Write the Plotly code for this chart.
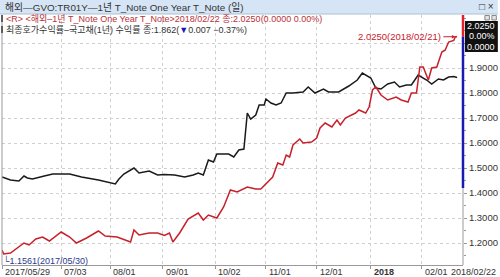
import plotly.graph_objects as go

# ---------------- data ----------------
red_dates = ["2017-05-29","2017-05-30","2017-06-03","2017-06-07","2017-06-11","2017-06-14","2017-06-18","2017-06-22","2017-06-26","2017-07-03",
             "2017-07-08","2017-07-12","2017-07-18","2017-07-25","2017-07-29","2017-08-05","2017-08-10","2017-08-13","2017-08-15","2017-08-18",
             "2017-08-24","2017-08-29","2017-09-02","2017-09-05","2017-09-07","2017-09-11","2017-09-16","2017-09-22","2017-09-25","2017-09-28",
             "2017-10-03","2017-10-07","2017-10-11","2017-10-15","2017-10-21","2017-10-26","2017-10-29","2017-11-02","2017-11-05","2017-11-08",
             "2017-11-11","2017-11-13","2017-11-15","2017-11-17","2017-11-21","2017-11-23","2017-11-28","2017-12-01","2017-12-03","2017-12-06",
             "2017-12-10","2017-12-13","2017-12-15","2017-12-18","2017-12-24","2017-12-26","2017-12-30","2018-01-01","2018-01-03","2018-01-05",
             "2018-01-08","2018-01-12","2018-01-17","2018-01-20","2018-01-24","2018-01-26","2018-01-29","2018-01-31","2018-02-02","2018-02-05",
             "2018-02-07","2018-02-10","2018-02-13","2018-02-15","2018-02-17","2018-02-20","2018-02-21","2018-02-22"]
red_vals = [1.172,1.156,1.160,1.180,1.200,1.192,1.216,1.224,1.208,1.244,
            1.224,1.200,1.220,1.248,1.228,1.224,1.212,1.204,1.252,1.232,
            1.240,1.240,1.230,1.240,1.204,1.240,1.296,1.320,1.292,1.312,
            1.300,1.344,1.412,1.404,1.424,1.416,1.416,1.444,1.464,1.520,
            1.512,1.552,1.544,1.592,1.616,1.600,1.604,1.620,1.660,1.680,
            1.664,1.692,1.672,1.700,1.720,1.732,1.720,1.744,1.812,1.824,
            1.792,1.772,1.784,1.772,1.764,1.800,1.800,1.904,1.904,1.852,
            1.900,1.904,1.964,1.972,2.004,2.010,2.025,2.025]

blk_dates = ["2017-05-29","2017-06-03","2017-06-08","2017-06-11","2017-06-13","2017-06-16","2017-06-23","2017-06-28","2017-07-08","2017-07-15",
             "2017-07-25","2017-07-31","2017-08-04","2017-08-06","2017-08-09","2017-08-15","2017-08-18","2017-08-24","2017-08-29","2017-09-02",
             "2017-09-08","2017-09-14","2017-09-19","2017-09-22","2017-09-25","2017-09-28","2017-10-01","2017-10-03","2017-10-10","2017-10-13",
             "2017-10-16","2017-10-19","2017-10-20","2017-10-21","2017-10-23","2017-10-26","2017-10-28","2017-10-31","2017-11-01","2017-11-04",
             "2017-11-07","2017-11-10","2017-11-13","2017-11-17","2017-11-23","2017-11-26","2017-11-30","2017-12-05","2017-12-08","2017-12-14",
             "2017-12-20","2017-12-25","2017-12-28","2018-01-02","2018-01-05","2018-01-08","2018-01-12","2018-01-16","2018-01-19","2018-01-23",
             "2018-01-26","2018-01-30","2018-02-04","2018-02-07","2018-02-11","2018-02-14","2018-02-17","2018-02-20","2018-02-22"]
blk_vals = [1.464,1.452,1.448,1.468,1.460,1.456,1.468,1.476,1.476,1.464,
            1.452,1.444,1.436,1.455,1.476,1.500,1.480,1.488,1.472,1.474,
            1.472,1.464,1.472,1.480,1.472,1.532,1.524,1.556,1.556,1.544,
            1.572,1.576,1.660,1.720,1.696,1.712,1.752,1.752,1.776,1.760,
            1.752,1.760,1.800,1.800,1.804,1.824,1.800,1.816,1.804,1.804,
            1.828,1.852,1.880,1.860,1.820,1.816,1.836,1.844,1.824,1.832,
            1.832,1.872,1.852,1.836,1.856,1.852,1.864,1.866,1.862]

x_tick_dates = ["2017-05-29","2017-07-03","2017-08-01","2017-09-01","2017-10-02","2017-11-01","2017-12-01","2018-01-02","2018-02-01"]
x_tick_text = ["2017/05/29","07/03","08/01","09/01","10/02","11/01","12/01","<b>2018</b>","02/01"]
last_date_label = "2018/02/22"
y_tick_vals = [1.2, 1.3, 1.4, 1.5, 1.6, 1.7, 1.8, 1.9, 2.0]
y_tick_text = ["1.2000","1.3000","1.4000","1.5000","1.6000","1.7000","1.8000","1.9000",""]

title_text = "해외—GVO:TR01Y—1년 T_Note One Year T_Note (일)"
legend_red = "<R> <해외–1년 T_Note One Year T_Note>2018/02/22 종:2.0250(0.0000 0.00%)"
legend_blk_a = "최종호가수익률–국고채(1년) 수익률 종:1.862("
legend_blk_b = "▼"
legend_blk_c = "0.007 −0.37%)"
last_red = 2.025
last_red_date = "2018-02-21"
low_red = 1.1561
low_red_date = "2017-05-30"
box_lines = ["2.0250", "0.00%", "0.0000"]

# ---------------- layout geometry ----------------
W, H = 500, 277
L, R, T, B = 2, 35, 15, 12
PW, PH = W - L - R, H - T - B

def px(xp):
    return (xp - L) / PW

def py(yp):
    return (H - B - yp) / PH

def esc(s):
    return s.replace("<", "&lt;").replace(">", "&gt;")

FONT = "Liberation Sans, Noto Sans CJK KR, sans-serif"
RED = "#c8202a"

fig = go.Figure()
fig.add_trace(go.Scatter(x=blk_dates, y=blk_vals, mode="lines",
                         line=dict(color="#1a1a1a", width=1.5), hoverinfo="skip"))
fig.add_trace(go.Scatter(x=red_dates, y=red_vals, mode="lines",
                         line=dict(color=RED, width=1.5), hoverinfo="skip"))

shapes = []
# title bar
shapes.append(dict(type="rect", xref="paper", yref="paper", x0=px(0), x1=px(W), y0=py(14), y1=py(0),
                   fillcolor="#d5e5f5", line=dict(width=0), layer="above"))
shapes.append(dict(type="line", xref="paper", yref="paper", x0=px(0), x1=px(W), y0=py(14), y1=py(14),
                   line=dict(color="#a9bfd6", width=1)))
# right-edge range bar
shapes.append(dict(type="line", xref="paper", yref="paper", x0=1, x1=1, y0=0, y1=1,
                   line=dict(color="#9a9a9a", width=1)))
shapes.append(dict(type="line", xref="paper", yref="y", x0=1, x1=1, y0=last_red, y1=2.112,
                   line=dict(color="#e0202a", width=2.5)))
shapes.append(dict(type="line", xref="paper", yref="y", x0=1, x1=1, y0=1.42, y1=last_red,
                   line=dict(color="#1a1ab0", width=2.5)))
# black value box
shapes.append(dict(type="rect", xref="paper", yref="paper", x0=px(467), x1=px(W), y0=py(52), y1=py(21),
                   fillcolor="#111111", line=dict(width=0)))
# small window icons above the box
shapes.append(dict(type="rect", xref="paper", yref="paper", x0=px(487), x1=px(491.5), y0=py(20), y1=py(15.5),
                   fillcolor="#e4e4e4", line=dict(color="#888", width=1)))
shapes.append(dict(type="rect", xref="paper", yref="paper", x0=px(494), x1=px(498.5), y0=py(20), y1=py(15.5),
                   fillcolor="#e4e4e4", line=dict(color="#888", width=1)))
# legend markers
shapes.append(dict(type="rect", xref="paper", yref="paper", x0=px(1), x1=px(3), y0=py(22), y1=py(15),
                   fillcolor="#222", line=dict(width=0)))
shapes.append(dict(type="rect", xref="paper", yref="paper", x0=px(1), x1=px(3), y0=py(33), y1=py(26),
                   fillcolor="#222", line=dict(width=0)))
# left border
shapes.append(dict(type="line", xref="paper", yref="paper", x0=0, x1=0, y0=0, y1=1,
                   line=dict(color="#999", width=1)))

ann = []
ann.append(dict(xref="paper", yref="paper", x=px(3), y=py(7), xanchor="left", yanchor="middle",
                text=esc(title_text), showarrow=False,
                font=dict(family=FONT, size=9.8, color="#333")))
ann.append(dict(xref="paper", yref="paper", x=px(498), y=py(7), xanchor="right", yanchor="middle",
                text="□ ×", showarrow=False, font=dict(family=FONT, size=10, color="#333")))
ann.append(dict(xref="paper", yref="paper", x=px(4), y=py(18.5), xanchor="left", yanchor="middle",
                text=esc(legend_red), showarrow=False,
                font=dict(family=FONT, size=9, color="#b8323a")))
ann.append(dict(xref="paper", yref="paper", x=px(4), y=py(29.5), xanchor="left", yanchor="middle",
                text=esc(legend_blk_a) + "<span style='color:#1a1ab0'>" + legend_blk_b + "</span>"
                + esc(legend_blk_c),
                showarrow=False, font=dict(family=FONT, size=9, color="#333")))
# last value label
ann.append(dict(x=last_red_date, y=last_red, xref="x", yref="y", text="2.0250(2018/02/21)",
                showarrow=True, arrowhead=2, arrowsize=0.7, arrowwidth=1, arrowcolor=RED,
                ax=-12, ay=0, xanchor="right", yanchor="middle",
                font=dict(family=FONT, size=9.5, color=RED)))
# low value label
ann.append(dict(x=low_red_date, y=low_red, xref="x", yref="y", text="└1.1561(2017/05/30)",
                showarrow=False, xanchor="left", yanchor="middle", yshift=-7, xshift=-3,
                font=dict(family=FONT, size=9, color="#2b3a8c")))
# box text
for i, t in enumerate(box_lines):
    ann.append(dict(xref="paper", yref="paper", x=px(499), y=py(26 + 10.4 * i), xanchor="right",
                    yanchor="middle", text=t, showarrow=False,
                    font=dict(family=FONT, size=9, color="white")))
# x tick labels (left aligned on tick)
for d, t in zip(x_tick_dates, x_tick_text):
    ann.append(dict(x=d, xref="x", yref="paper", y=py(272), xanchor="left", yanchor="middle",
                    text=t, showarrow=False, xshift=1,
                    font=dict(family=FONT, size=9, color="#333")))
ann.append(dict(xref="paper", yref="paper", x=px(500), y=py(272), xanchor="right", yanchor="middle",
                text=last_date_label, showarrow=False, font=dict(family=FONT, size=9, color="#333")))

fig.update_layout(
    width=W, height=H, margin=dict(l=L, r=R, t=T, b=B),
    paper_bgcolor="white", plot_bgcolor="white", showlegend=False,
    shapes=shapes, annotations=ann,
    xaxis=dict(range=["2017-05-29", "2018-02-25 12:00"], tickvals=x_tick_dates,
               showticklabels=False, ticks="outside", ticklen=3, tickcolor="#999",
               showgrid=True, gridcolor="#d0d0d0", griddash="dot", gridwidth=1,
               showline=True, linecolor="#999", linewidth=1, mirror=False, zeroline=False,
               fixedrange=True),
    yaxis=dict(range=[1.112, 2.112], side="right", tickvals=y_tick_vals, ticktext=y_tick_text,
               ticks="outside", ticklen=3, tickcolor="#999",
               minor=dict(dtick=0.05, ticks="outside", ticklen=2, tickcolor="#999", showgrid=False),
               tickfont=dict(family=FONT, size=9.5, color="#333"),
               showgrid=True, gridcolor="#d0d0d0", griddash="dot", gridwidth=1,
               showline=False, zeroline=False, fixedrange=True),
)

fig.write_html("out.html")
